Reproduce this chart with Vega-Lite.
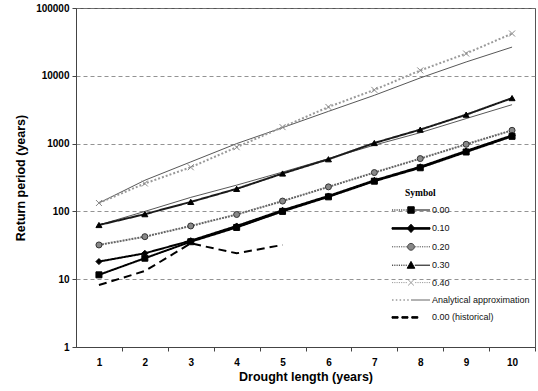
{
  "$schema": "https://vega.github.io/schema/vega-lite/v6.json",
  "width": 459,
  "height": 339,
  "autosize": "none",
  "padding": {"left": 76, "top": 8, "right": 3, "bottom": 44},
  "data": {"values": [
    {"s": "A0.40", "k": "Analytical approximation", "x": 1, "y": 133},
    {"s": "A0.40", "k": "Analytical approximation", "x": 2, "y": 288},
    {"s": "A0.40", "k": "Analytical approximation", "x": 3, "y": 537},
    {"s": "A0.40", "k": "Analytical approximation", "x": 4, "y": 1000},
    {"s": "A0.40", "k": "Analytical approximation", "x": 5, "y": 1720},
    {"s": "A0.40", "k": "Analytical approximation", "x": 6, "y": 2990},
    {"s": "A0.40", "k": "Analytical approximation", "x": 7, "y": 5160},
    {"s": "A0.40", "k": "Analytical approximation", "x": 8, "y": 9300},
    {"s": "A0.40", "k": "Analytical approximation", "x": 9, "y": 16000},
    {"s": "A0.40", "k": "Analytical approximation", "x": 10, "y": 26500},
    {"s": "A0.30", "k": "Analytical approximation", "x": 1, "y": 63},
    {"s": "A0.30", "k": "Analytical approximation", "x": 2, "y": 100},
    {"s": "A0.30", "k": "Analytical approximation", "x": 3, "y": 161},
    {"s": "A0.30", "k": "Analytical approximation", "x": 4, "y": 244},
    {"s": "A0.30", "k": "Analytical approximation", "x": 5, "y": 380},
    {"s": "A0.30", "k": "Analytical approximation", "x": 6, "y": 600},
    {"s": "A0.30", "k": "Analytical approximation", "x": 7, "y": 950},
    {"s": "A0.30", "k": "Analytical approximation", "x": 8, "y": 1450},
    {"s": "A0.30", "k": "Analytical approximation", "x": 9, "y": 2340},
    {"s": "A0.30", "k": "Analytical approximation", "x": 10, "y": 3750},
    {"s": "H", "k": "0.00 (historical)", "x": 1, "y": 8.2},
    {"s": "H", "k": "0.00 (historical)", "x": 2, "y": 13.2},
    {"s": "H", "k": "0.00 (historical)", "x": 3, "y": 33.8},
    {"s": "H", "k": "0.00 (historical)", "x": 4, "y": 24.1},
    {"s": "H", "k": "0.00 (historical)", "x": 5, "y": 32},
    {"s": "0.40", "k": "0.40", "x": 1, "y": 133},
    {"s": "0.40", "k": "0.40", "x": 2, "y": 258},
    {"s": "0.40", "k": "0.40", "x": 3, "y": 448},
    {"s": "0.40", "k": "0.40", "x": 4, "y": 885},
    {"s": "0.40", "k": "0.40", "x": 5, "y": 1750},
    {"s": "0.40", "k": "0.40", "x": 6, "y": 3470},
    {"s": "0.40", "k": "0.40", "x": 7, "y": 6200},
    {"s": "0.40", "k": "0.40", "x": 8, "y": 12000},
    {"s": "0.40", "k": "0.40", "x": 9, "y": 21300},
    {"s": "0.40", "k": "0.40", "x": 10, "y": 42000},
    {"s": "0.30", "k": "0.30", "x": 1, "y": 63},
    {"s": "0.30", "k": "0.30", "x": 2, "y": 91},
    {"s": "0.30", "k": "0.30", "x": 3, "y": 138},
    {"s": "0.30", "k": "0.30", "x": 4, "y": 215},
    {"s": "0.30", "k": "0.30", "x": 5, "y": 362},
    {"s": "0.30", "k": "0.30", "x": 6, "y": 588},
    {"s": "0.30", "k": "0.30", "x": 7, "y": 1020},
    {"s": "0.30", "k": "0.30", "x": 8, "y": 1607},
    {"s": "0.30", "k": "0.30", "x": 9, "y": 2670},
    {"s": "0.30", "k": "0.30", "x": 10, "y": 4690},
    {"s": "0.20", "k": "0.20", "x": 1, "y": 32},
    {"s": "0.20", "k": "0.20", "x": 2, "y": 42.4},
    {"s": "0.20", "k": "0.20", "x": 3, "y": 61},
    {"s": "0.20", "k": "0.20", "x": 4, "y": 90},
    {"s": "0.20", "k": "0.20", "x": 5, "y": 142},
    {"s": "0.20", "k": "0.20", "x": 6, "y": 230},
    {"s": "0.20", "k": "0.20", "x": 7, "y": 374},
    {"s": "0.20", "k": "0.20", "x": 8, "y": 601},
    {"s": "0.20", "k": "0.20", "x": 9, "y": 977},
    {"s": "0.20", "k": "0.20", "x": 10, "y": 1570},
    {"s": "0.10", "k": "0.10", "x": 1, "y": 18.2},
    {"s": "0.10", "k": "0.10", "x": 2, "y": 24.1},
    {"s": "0.10", "k": "0.10", "x": 3, "y": 37},
    {"s": "0.10", "k": "0.10", "x": 4, "y": 61},
    {"s": "0.10", "k": "0.10", "x": 5, "y": 104},
    {"s": "0.10", "k": "0.10", "x": 6, "y": 169},
    {"s": "0.10", "k": "0.10", "x": 7, "y": 287},
    {"s": "0.10", "k": "0.10", "x": 8, "y": 455},
    {"s": "0.10", "k": "0.10", "x": 9, "y": 780},
    {"s": "0.10", "k": "0.10", "x": 10, "y": 1320},
    {"s": "0.00", "k": "0.00", "x": 1, "y": 11.6},
    {"s": "0.00", "k": "0.00", "x": 2, "y": 20.4},
    {"s": "0.00", "k": "0.00", "x": 3, "y": 35.7},
    {"s": "0.00", "k": "0.00", "x": 4, "y": 58},
    {"s": "0.00", "k": "0.00", "x": 5, "y": 100},
    {"s": "0.00", "k": "0.00", "x": 6, "y": 164},
    {"s": "0.00", "k": "0.00", "x": 7, "y": 279},
    {"s": "0.00", "k": "0.00", "x": 8, "y": 440},
    {"s": "0.00", "k": "0.00", "x": 9, "y": 752},
    {"s": "0.00", "k": "0.00", "x": 10, "y": 1280}
  ]},
  "encoding": {
    "x": {"field": "x", "type": "quantitative",
      "scale": {"domain": [0.5, 10.5], "nice": false, "zero": false},
      "axis": {"values": [1,2,3,4,5,6,7,8,9,10], "title": "Drought length (years)", "grid": false,
        "tickOffset": 23, "labelOffset": -23, "tickSize": 4, "labelPadding": 6, "titlePadding": 3}},
    "y": {"field": "y", "type": "quantitative",
      "scale": {"type": "log", "domain": [1, 100000], "nice": false},
      "axis": {"values": [1,10,100,1000,10000,100000], "format": "d", "title": "Return period (years)",
        "grid": true, "gridDash": [4,3], "gridColor": "#777", "gridWidth": 0.8,
        "tickSize": 4, "labelPadding": 3, "titlePadding": 8}}
  },
  "layer": [
    {
      "transform": [{"filter": "datum.k == 'Analytical approximation'"}],
      "mark": {"type": "line", "strokeWidth": 0.9, "color": "#444444"},
      "encoding": {"detail": {"field": "s"}}
    },
    {
      "transform": [{"filter": "datum.k != 'Analytical approximation'"}],
      "mark": {"type": "line"},
      "encoding": {
        "detail": {"field": "s"},
        "color": {"field": "k", "type": "nominal", "legend": null,
          "scale": {"domain": ["0.00","0.10","0.20","0.30","0.40","0.00 (historical)"],
            "range": ["#000000","#000000","#666666","#1a1a1a","#9a9a9a","#000000"]}},
        "strokeDash": {"field": "k", "type": "nominal", "legend": null,
          "scale": {"domain": ["0.00","0.10","0.20","0.30","0.40","0.00 (historical)"],
            "range": [[1,0],[1,0],[2,1],[1,0],[2,2],[8,5]]}}
      }
    },
    {
      "transform": [{"filter": "indexof(['0.00','0.10','0.20','0.30','0.40'], datum.k) >= 0"}],
      "mark": {"type": "point", "opacity": 1, "size": 36, "strokeWidth": 1},
      "encoding": {
        "shape": {"field": "k", "type": "nominal", "legend": null,
          "scale": {"domain": ["0.00","0.10","0.20","0.30","0.40"],
            "range": ["square","diamond","circle","triangle-up","M-1,-1L1,1M-1,1L1,-1"]}},
        "fill": {"field": "k", "type": "nominal", "legend": null,
          "scale": {"domain": ["0.00","0.10","0.20","0.30","0.40"],
            "range": ["#000000","#000000","#888888","#000000","transparent"]}},
        "stroke": {"field": "k", "type": "nominal", "legend": null,
          "scale": {"domain": ["0.00","0.10","0.20","0.30","0.40"],
            "range": ["#000000","#000000","#333333","#000000","#888888"]}}
      }
    },
    {
      "transform": [{"filter": "datum.x > 100"}],
      "mark": {"type": "point", "opacity": 1, "size": 100, "strokeWidth": 1},
      "encoding": {
        "shape": {"field": "k", "type": "nominal",
          "scale": {"domain": ["0.00","0.10","0.20","0.30","0.40","Analytical approximation","0.00 (historical)"],
            "range": [
              "M-3.8,0h0.228M-3.344,0h0.228M-2.888,0h0.228M-2.432,0h0.228M-1.976,0h0.228M-1.52,0h0.228M-1.064,0h0.228M0.76,0H3.8M-0.646,-0.646H0.646V0.646H-0.646Z",
              "M-3.8,-0.152H3.8V0.152H-3.8ZM0,-0.836L0.76,0L0,0.836L-0.76,0Z",
              "M-3.8,0h0.228M-3.344,0h0.228M-2.888,0h0.228M-2.432,0h0.228M-1.976,0h0.228M-1.52,0h0.228M-1.064,0h0.228M0.836,0h0.228M1.292,0h0.228M1.748,0h0.228M2.204,0h0.228M2.66,0h0.228M3.116,0h0.228M3.572,0h0.228M-0.684,0A0.684,0.684,0,1,0,0.684,0A0.684,0.684,0,1,0,-0.684,0Z",
              "M-3.8,0h0.228M-3.344,0h0.228M-2.888,0h0.228M-2.432,0h0.228M-1.976,0h0.228M-1.52,0h0.228M-1.064,0h0.228M0.76,0H3.8M0,-0.76L0.76,0.608H-0.76Z",
              "M-3.8,0h0.228M-3.344,0h0.228M-2.888,0h0.228M-2.432,0h0.228M-1.976,0h0.228M-1.52,0h0.228M-1.064,0h0.228M0.836,0h0.228M1.292,0h0.228M1.748,0h0.228M2.204,0h0.228M2.66,0h0.228M3.116,0h0.228M3.572,0h0.228M-0.57,-0.57L0.57,0.57M-0.57,0.57L0.57,-0.57",
              "M-3.8,0h0.304M-3.04,0h0.304M-2.28,0h0.304M-1.52,0h0.304M-0.76,0h0.304M0,0H3.8",
              "M-3.8,-0.152H-2.584V0.152H-3.8ZM-1.824,-0.152H-0.608V0.152H-1.824ZM0.152,-0.152H1.368V0.152H0.152Z"
            ]},
          "legend": {"title": "Symbol", "orient": "none", "legendX": 329, "legendY": 180, "direction": "vertical", "symbolSize": 100}},
        "fill": {"field": "k", "type": "nominal",
          "scale": {"domain": ["0.00","0.10","0.20","0.30","0.40","Analytical approximation","0.00 (historical)"],
            "range": ["#000000","#000000","#888888","#000000","transparent","transparent","#000000"]},
          "legend": {"title": "Symbol", "orient": "none", "legendX": 329, "legendY": 180, "direction": "vertical", "symbolSize": 100}},
        "stroke": {"field": "k", "type": "nominal",
          "scale": {"domain": ["0.00","0.10","0.20","0.30","0.40","Analytical approximation","0.00 (historical)"],
            "range": ["#000000","#000000","#444444","#000000","#999999","#666666","#000000"]},
          "legend": {"title": "Symbol", "orient": "none", "legendX": 329, "legendY": 180, "direction": "vertical", "symbolSize": 100}}
      }
    }
  ],
  "resolve": {"scale": {"shape": "independent", "fill": "independent", "stroke": "independent"}},
  "config": {
    "view": {"stroke": "#555555", "strokeWidth": 1},
    "axis": {"domainColor": "#444444", "tickColor": "#444444", "labelColor": "#000000", "titleColor": "#000000",
      "labelFont": "Liberation Sans", "labelFontWeight": "bold", "labelFontSize": 10,
      "titleFont": "Liberation Sans", "titleFontWeight": "bold", "titleFontSize": 12.5},
    "legend": {"titleFont": "Liberation Serif", "titleFontSize": 9.5, "titleFontWeight": "bold", "titleColor": "#000000",
      "titlePadding": 7, "labelFont": "Liberation Sans", "labelFontSize": 9, "labelColor": "#111111",
      "symbolSize": 100, "symbolStrokeWidth": 1, "rowPadding": 6.4, "labelOffset": 15.5, "symbolOffset": 0.5, "padding": 0}
  }
}
